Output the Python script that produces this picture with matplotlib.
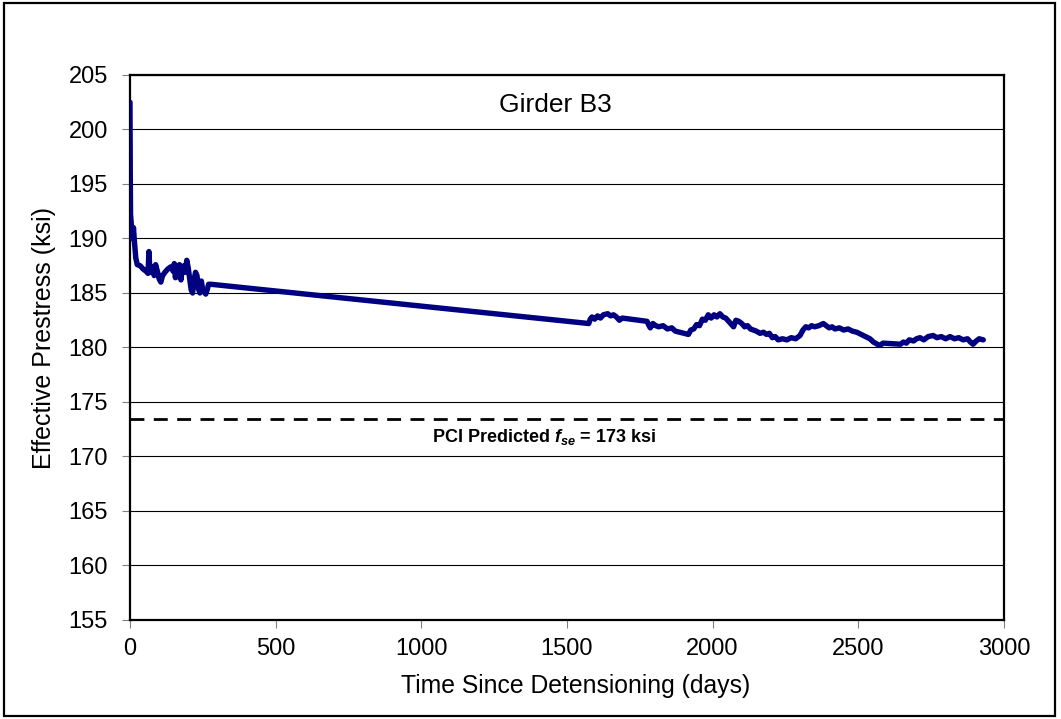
import numpy as np
import matplotlib.pyplot as plt
from matplotlib.patches import Rectangle

plt.rcParams['font.family'] = ['Liberation Sans', 'DejaVu Sans']
plt.rcParams['mathtext.fontset'] = 'custom'
plt.rcParams['mathtext.rm'] = 'Liberation Sans:bold'
plt.rcParams['mathtext.it'] = 'Liberation Sans:bold:italic'
plt.rcParams['mathtext.bf'] = 'Liberation Sans:bold'

### data ###

days = [0, 1, 2, 4, 6, 8, 10, 12, 15, 20, 25, 35, 45, 55, 62, 65, 68, 72, 78, 83,
        88, 95, 100, 106, 112, 120, 130, 140, 148, 152, 156, 160, 165, 170, 175, 180,
        185, 190, 195, 200, 205, 210, 215, 220, 225, 230, 235, 240, 245, 250, 255,
        260, 265, 270, 278,
        1575, 1580, 1586, 1595, 1605, 1615, 1625, 1640, 1650, 1660, 1670, 1680, 1690,
        1775, 1780, 1786, 1795, 1805, 1815, 1830, 1845, 1860, 1872,
        1917, 1925, 1935, 1945, 1955, 1965, 1975, 1985, 1995, 2005, 2015, 2025, 2035,
        2045, 2055, 2065, 2072, 2080, 2090, 2100, 2110, 2120, 2130, 2140, 2150, 2163,
        2175, 2185, 2195, 2205, 2215, 2225, 2240, 2255, 2270, 2285, 2300, 2310, 2320,
        2330, 2340, 2350, 2365, 2380, 2390, 2400, 2410, 2420, 2435, 2450, 2465, 2480,
        2495, 2510, 2525, 2540, 2552, 2565, 2575, 2585,
        2645, 2655, 2665, 2675, 2690, 2700, 2712, 2725, 2740, 2757, 2770, 2785, 2800,
        2815, 2830, 2845, 2860, 2875, 2885, 2894, 2905, 2915, 2929]
fse = [202.5, 196.0, 192.2, 191.5, 190.0, 190.8, 190.2, 191.0, 189.8, 188.2, 187.6,
       187.5, 187.2, 187.0, 186.8, 188.8, 187.3, 186.9, 187.4, 186.6,
       187.6, 186.9, 186.3, 186.0, 186.6, 186.9, 187.2, 187.4, 187.0, 187.7, 186.4,
       187.5, 186.5, 187.6, 186.2, 187.4, 187.5, 186.9, 188.0, 187.3, 186.3, 185.3,
       185.0, 186.2, 186.9, 186.6, 185.4, 185.0, 186.1, 185.2, 185.1,
       184.9, 185.3, 185.8, 185.8,
       182.2, 182.6, 182.8, 182.6, 182.9, 182.7, 183.0, 183.1, 182.9, 183.0, 182.8,
       182.5, 182.7,
       182.4, 182.1, 181.8, 182.2, 182.0, 181.9, 182.0, 181.7, 181.8, 181.5,
       181.2, 181.6, 181.7, 182.1, 182.0, 182.6, 182.5, 183.0, 182.7, 183.0, 182.8,
       183.1, 182.8, 182.7, 182.4, 182.1, 181.9, 182.5, 182.4, 182.2, 181.9, 182.0,
       181.7, 181.6, 181.5, 181.3,
       181.4, 181.2, 181.3, 180.9, 181.0, 180.7, 180.8, 180.7, 180.9, 180.8, 181.1,
       181.6, 181.9, 181.8, 182.0, 181.9, 182.0, 182.2, 182.0, 181.8, 181.9, 181.7,
       181.8, 181.6, 181.7, 181.5, 181.4, 181.2, 181.0, 180.8, 180.5, 180.3, 180.2,
       180.4,
       180.3, 180.5, 180.4, 180.7, 180.6, 180.8, 180.9, 180.7, 181.0, 181.1, 180.9,
       181.0, 180.8, 181.0, 180.8, 180.9, 180.7, 180.8, 180.5, 180.3, 180.6, 180.8,
       180.7]

pci_fse = 173.4

### plot ###

fig = plt.figure(figsize=(10.61, 7.19), dpi=100)
ax = fig.add_axes([0.1225, 0.1377, 0.8237, 0.758])

ax.plot(days, fse, color="#000080", lw=3.9, solid_joinstyle="round", solid_capstyle="round", zorder=3)
ax.axhline(pci_fse, color="black", lw=2.0, dashes=(5, 3.4), zorder=2)

ax.text(0.487, 0.945, "Girder B3", transform=ax.transAxes, ha="center", va="center", fontsize=19)
ax.text(0.474, 0.335, r"PCI Predicted $f_{se}$ = 173 ksi", transform=ax.transAxes,
        ha="center", va="center", fontsize=13, fontweight="bold")

ax.set_xlim(0, 3000)
ax.set_ylim(155, 205)
ax.set_xticks(np.arange(0, 3001, 500))
ax.set_yticks(np.arange(155, 206, 5))
ax.yaxis.grid(True, color="black", lw=0.8)
ax.set_axisbelow(True)
ax.tick_params(direction="out", length=6, width=0.8, color="gray", labelsize=17)
ax.tick_params(axis="y", pad=10)
ax.tick_params(axis="x", pad=7)
for s in ax.spines.values():
    s.set_linewidth(1.6)

ax.set_xlabel("Time Since Detensioning (days)", fontsize=17.8, labelpad=10)
ax.set_ylabel("Effective Prestress (ksi)", fontsize=18, labelpad=9)
ax.xaxis.label.set_x(0.51)
ax.yaxis.label.set_y(0.517)

fig.patches.append(Rectangle((4/1061, 3/719), 1051/1061, 713/719, transform=fig.transFigure,
                             fill=False, lw=1.6, edgecolor="black"))

fig.savefig("out.png", dpi=100)
